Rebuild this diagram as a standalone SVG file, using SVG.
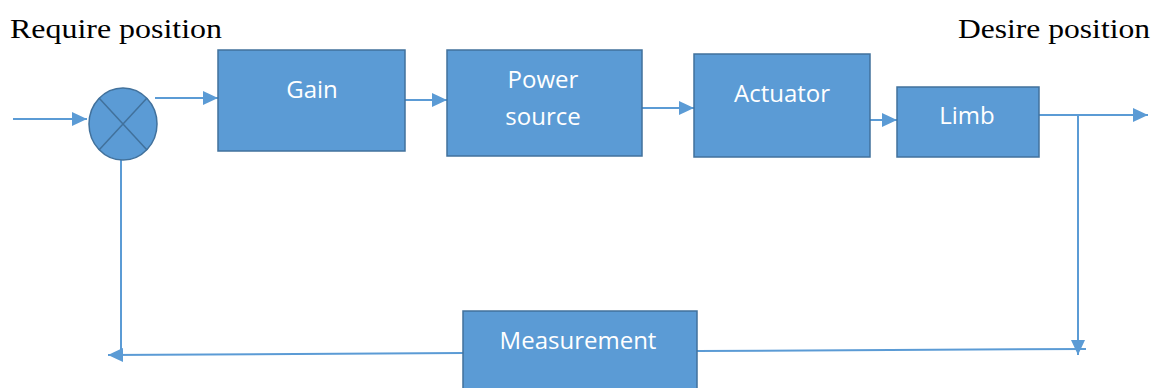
<svg xmlns="http://www.w3.org/2000/svg" width="1158" height="388" viewBox="0 0 1158 388">
  <style>
    .box { fill: #5B9BD5; stroke: #41719C; stroke-width: 1.5; }
    .lbl { fill: #ffffff; font-family: "Open Sans", "Noto Sans", sans-serif; font-size: 24px; text-anchor: middle; }
    .cap { fill: #000000; font-family: "Liberation Serif", serif; font-size: 28px; }
    .wire { fill: none; stroke: #5B9BD5; stroke-width: 2; }
    .cross { stroke: #41719C; stroke-width: 1.5; }
  </style>
  <defs>
    <marker id="arrow" viewBox="0 0 15 14" refX="15" refY="7" markerWidth="15" markerHeight="14" markerUnits="userSpaceOnUse" orient="auto">
      <path d="M0,0 L15,7 L0,14 z" fill="#5B9BD5"/>
    </marker>
  </defs>

  <rect width="1158" height="388" fill="#ffffff"/>

  <text class="cap" x="10" y="38" textLength="212" lengthAdjust="spacingAndGlyphs">Require position</text>
  <text class="cap" x="958" y="38" textLength="192" lengthAdjust="spacingAndGlyphs">Desire position</text>

  <g id="connectors">
    <line class="wire" x1="13" y1="119" x2="87" y2="119" marker-end="url(#arrow)"/>
    <line class="wire" x1="155" y1="98" x2="218" y2="98" marker-end="url(#arrow)"/>
    <line class="wire" x1="405" y1="100" x2="447" y2="100" marker-end="url(#arrow)"/>
    <line class="wire" x1="642" y1="108" x2="694" y2="108" marker-end="url(#arrow)"/>
    <line class="wire" x1="870" y1="120" x2="897" y2="120" marker-end="url(#arrow)"/>
    <line class="wire" x1="1039" y1="115" x2="1148" y2="115" marker-end="url(#arrow)"/>
    <line class="wire" x1="1078" y1="115" x2="1078" y2="355" marker-end="url(#arrow)"/>
    <line class="wire" x1="697" y1="351" x2="1086" y2="349"/>
    <line class="wire" x1="463" y1="353" x2="108" y2="355" marker-end="url(#arrow)"/>
    <line class="wire" x1="121" y1="160" x2="121" y2="355"/>
  </g>

  <g id="summing-junction">
    <ellipse class="box" cx="123" cy="124" rx="34" ry="36"/>
    <line class="cross" x1="99" y1="98" x2="147" y2="150"/>
    <line class="cross" x1="147" y1="98" x2="99" y2="150"/>
  </g>

  <g id="gain">
    <rect class="box" x="218" y="50" width="187" height="101"/>
    <text class="lbl" x="312" y="98">Gain</text>
  </g>

  <g id="power-source">
    <rect class="box" x="447" y="50" width="195" height="106"/>
    <text class="lbl" x="543" y="88">Power</text>
    <text class="lbl" x="543" y="125">source</text>
  </g>

  <g id="actuator">
    <rect class="box" x="694" y="54" width="176" height="103"/>
    <text class="lbl" x="782" y="102">Actuator</text>
  </g>

  <g id="limb">
    <rect class="box" x="897" y="87" width="142" height="70"/>
    <text class="lbl" x="967" y="124">Limb</text>
  </g>

  <g id="measurement">
    <rect class="box" x="463" y="311" width="234" height="80"/>
    <text class="lbl" x="578" y="349">Measurement</text>
  </g>
</svg>
